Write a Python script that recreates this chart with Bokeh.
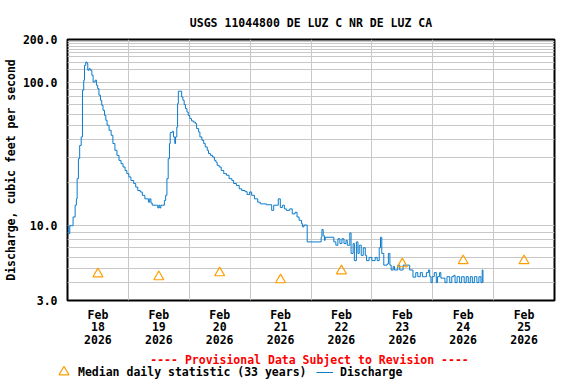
import pandas as pd
from bokeh.plotting import figure
from bokeh.layouts import column
from bokeh.models import Range1d, FixedTicker, Legend, LegendItem, Label, ColumnDataSource
from bokeh.embed import file_html
from bokeh.resources import INLINE

# ---------------- data ----------------
start = pd.Timestamp("2026-02-18 00:00")
end = pd.Timestamp("2026-02-26 00:00")

# hours after 2026-02-18 00:00
hours = [0.1,0.5,0.9,1.5,2.2,3.0,3.5,3.8,4.3,4.8,
         5.4,5.9,6.4,6.7,7.2,7.7,8.0,8.5,9.0,9.6,
         10.1,10.9,11.4,11.9,12.4,13.0,13.5,14.0,14.6,15.1,
         15.6,16.4,17.2,17.9,18.7,19.5,20.3,21.1,21.9,22.7,
         23.4,24.2,25.0,26.1,26.9,27.7,28.7,29.5,30.5,31.9,
         32.4,32.9,33.4,35.2,35.6,36.0,36.4,36.8,37.6,38.2,
         38.7,39.2,39.7,40.2,40.5,41.3,41.8,42.3,42.6,43.1,
         43.4,43.7,44.4,45.0,45.5,46.0,46.5,47.1,47.6,48.2,
         48.9,49.6,50.4,50.9,51.7,52.2,53.0,53.7,54.3,55.1,
         55.6,56.4,57.2,57.9,58.5,59.0,59.8,60.6,61.6,62.7,
         63.7,64.8,65.5,66.6,67.7,68.7,70.0,70.8,71.8,72.6,
         73.7,75.0,76.0,78.4,80.5,81.3,82.9,83.1,83.9,84.7,
         85.5,86.3,87.6,88.6,89.7,90.5,91.3,92.3,92.7,93.2,
         94.3,94.5,99.5,100.0,100.3,100.8,101.3,101.6,104.8,105.0,
         105.8,106.6,107.4,108.2,109.0,109.8,110.3,111.3,111.8,112.6,
         113.1,113.9,114.5,115.0,115.8,116.6,117.4,117.9,118.9,120.0,
         121.3,122.1,122.9,123.4,123.9,124.7,126.0,126.5,127.1,127.6,
         128.4,128.9,130.2,131.0,132.0,132.3,134.1,134.9,135.4,136.2,
         137.3,138.1,139.1,139.9,140.7,141.5,142.3,142.8,143.3,143.8,
         144.6,145.4,145.9,146.7,147.2,148.8,149.6,150.7,151.5,152.3,
         152.8,153.6,154.6,155.4,156.4,157.2,158.0,158.8,159.6,160.4,
         161.4,162.2,163.0,163.5,163.8]

discharge = [10.0,8.8,10.0,10.0,11.5,13.9,15.4,21.3,29.4,36.4,
             41.7,88.4,103.8,132,139,136,122,125,122,112.5,
             101,104,95.8,90.8,81.6,75.2,69.4,64,59,54.5,
             50.3,46.4,42.8,37.5,33.6,31,28.6,27.1,25.7,24.3,
             23.1,21.9,20.7,19.7,18.6,17.6,17.2,16.3,15.4,14.6,
             15.4,14.4,13.9,13.9,13.3,13.9,13.3,13.9,13.9,15.0,
             16.3,21.3,29.4,37.5,44.7,45.6,41.7,37.5,41.7,48.9,
             71.3,87,87,79.3,75.2,70.2,65.8,62.3,59,56,
             54,53,51.7,47.7,45.1,41.7,39.5,37.5,35.5,33.6,
             31.9,31,30.2,28.6,27.8,26.4,25.7,24.3,23.1,22.5,
             21.3,20.7,19.7,19.1,18.1,17.6,17.3,16.5,17.2,16.3,
             15.4,14.6,14.2,14.0,12.8,13.9,13.9,15.4,13.4,13.9,
             13.1,12.8,13.1,12.1,12.4,11.5,10.9,10.3,9.8,10.1,
             10.1,7.7,7.7,8.3,9.4,8.5,7.9,8.3,8.3,7.7,
             7.3,8.1,7.5,8.1,7.5,7.9,7.3,8.9,6.4,7.5,
             5.7,7.7,6.4,7.3,6.2,7.0,6.2,5.7,6.0,5.7,
             6.0,5.7,7.0,8.3,6.4,5.3,5.4,6.4,5.3,4.9,
             5.2,4.9,5.3,4.9,4.9,5.3,5.3,4.9,4.9,4.37,
             4.7,4.4,4.7,4.4,4.4,4.7,4.9,4.4,4.0,4.4,
             4.7,4.0,4.4,4.7,4.3,4.0,4.4,4.0,4.4,4.5,
             4.0,4.4,4.0,4.4,4.0,4.4,4.0,4.4,4.0,4.4,
             4.0,4.4,4.0,4.9,4.0]

median_dates = ["2026-02-18 12:00", "2026-02-19 12:00", "2026-02-20 12:00", "2026-02-21 12:00",
                "2026-02-22 12:00", "2026-02-23 12:00", "2026-02-24 12:00", "2026-02-25 12:00"]
median_values = [4.60, 4.39, 4.68, 4.18, 4.83, 5.41, 5.68, 5.68]

label_dates = median_dates
label_texts = ["Feb\n18\n2026", "Feb\n19\n2026", "Feb\n20\n2026", "Feb\n21\n2026",
               "Feb\n22\n2026", "Feb\n23\n2026", "Feb\n24\n2026", "Feb\n25\n2026"]
grid_dates = ["2026-02-19", "2026-02-20", "2026-02-21", "2026-02-22",
              "2026-02-23", "2026-02-24", "2026-02-25"]

y_tick_values = [3, 10, 100, 200]
y_tick_labels = ["3.0", "10.0", "100.0", "200.0"]
y_grid_values = [4, 5, 6, 7, 8, 9, 10, 20, 30, 40, 50, 60, 70, 80, 90, 100,
                 123, 139, 152, 162, 171, 179, 187, 194]

TITLE = "USGS 11044800 DE LUZ C NR DE LUZ CA"
PROVISIONAL = "---- Provisional Data Subject to Revision ----"
Y_LABEL = "Discharge, cubic feet per second"
MEDIAN_LABEL = "Median daily statistic (33 years)"
LINE_LABEL = "Discharge"

# ---------------- style ----------------
FONT = "DejaVu Sans Mono"
FS = "11.5px"
BLUE = "#0A7BCB"
ORANGE = "#FF9E00"
GRID = "#C8C8C8"
W = 576


def ms(s):
    return pd.Timestamp(s).value / 1e6


x = [start + pd.Timedelta(hours=h) for h in hours]
src = ColumnDataSource(dict(x=x, y=discharge))
msrc = ColumnDataSource(dict(x=[pd.Timestamp(d) for d in median_dates], y=median_values))

p = figure(width=W, height=350, x_axis_type="datetime", y_axis_type="log",
           x_range=Range1d(start.to_pydatetime(), end.to_pydatetime()),
           y_range=Range1d(3, 200),
           output_backend="svg", toolbar_location=None,
           min_border_left=66, min_border_right=22, min_border_top=39, min_border_bottom=50)

p.background_fill_color = "white"
p.border_fill_color = "white"
p.outline_line_color = "black"
p.outline_line_width = 2

p.title.text = TITLE
p.title.align = "center"
p.title.text_font = FONT
p.title.text_font_style = "bold"
p.title.text_font_size = FS
p.title.text_color = "black"
p.title.standoff = 20

# x axis
xt = [ms(d) for d in label_dates]
p.xaxis.ticker = FixedTicker(ticks=xt)
p.xaxis.major_label_overrides = {t: l for t, l in zip(xt, label_texts)}
p.xgrid.ticker = FixedTicker(ticks=[ms(d) for d in grid_dates])

# y axis
p.yaxis.ticker = FixedTicker(ticks=y_tick_values)
p.yaxis.major_label_overrides = {v: l for v, l in zip(y_tick_values, y_tick_labels)}
p.ygrid.ticker = FixedTicker(ticks=y_grid_values)
p.yaxis.axis_label = Y_LABEL

for ax in (p.xaxis[0], p.yaxis[0]):
    ax.axis_line_color = None
    ax.major_tick_line_color = None
    ax.minor_tick_line_color = None
    ax.major_tick_out = 0
    ax.major_tick_in = 0
    ax.minor_tick_out = 0
    ax.minor_tick_in = 0
    ax.major_label_text_font = FONT
    ax.major_label_text_font_style = "bold"
    ax.major_label_text_font_size = FS
    ax.major_label_text_color = "black"
    ax.axis_label_text_font = FONT
    ax.axis_label_text_font_style = "bold"
    ax.axis_label_text_font_size = FS
    ax.axis_label_text_color = "black"

p.xaxis.major_label_standoff = 7
p.xaxis.major_label_text_line_height = 0.91
p.yaxis.major_label_standoff = 10
p.yaxis.axis_label_standoff = 2

for g in (p.xgrid[0], p.ygrid[0]):
    g.grid_line_color = GRID
    g.grid_line_width = 1
    g.minor_grid_line_color = None

# data
p.step("x", "y", source=src, mode="after", line_color=BLUE, line_width=1)
p.scatter("x", "y", source=msrc, marker="triangle", size=10,
          fill_color=None, line_color=ORANGE, line_width=1.2)

# ---------------- footer: provisional note + legend ----------------
H2 = 34
f = figure(width=W, height=H2, x_range=Range1d(0, W), y_range=Range1d(0, H2),
           output_backend="svg", toolbar_location=None,
           x_axis_location=None, y_axis_location=None, frame_align=False,
           min_border=0, min_border_left=0, min_border_right=0,
           min_border_top=0, min_border_bottom=0)
f.outline_line_color = None
f.grid.visible = False
f.background_fill_color = "white"
f.border_fill_color = "white"

NAN = float("nan")
med_proxy = f.scatter(x=[NAN], y=[NAN], marker="triangle", fill_color=None,
                      line_color=ORANGE, line_width=1.2)
line_proxy = f.line(x=[NAN, NAN], y=[NAN, NAN], line_color=BLUE, line_width=1)

f.add_layout(Label(x=309, y=H2 - 9, text=PROVISIONAL,
                   text_align="center", text_baseline="middle",
                   text_font=FONT, text_font_style="bold", text_font_size=FS,
                   text_color="#FF0000"))


def style_legend(lg):
    lg.label_text_font = FONT
    lg.label_text_font_style = "bold"
    lg.label_text_font_size = FS
    lg.label_text_color = "black"
    lg.label_text_baseline = "middle"
    lg.border_line_color = None
    lg.background_fill_alpha = 0
    lg.padding = 0
    lg.margin = 0
    lg.spacing = 0


leg1 = Legend(items=[LegendItem(label=MEDIAN_LABEL, renderers=[med_proxy])],
              location=(51, 0), glyph_width=25, glyph_height=25, label_height=25,
              label_standoff=2)
style_legend(leg1)
leg2 = Legend(items=[LegendItem(label=LINE_LABEL, renderers=[line_proxy])],
              location=(316, 5), glyph_width=17, glyph_height=14, label_height=14,
              label_standoff=7)
style_legend(leg2)
f.add_layout(leg1, "center")
f.add_layout(leg2, "center")

layout = column(p, f, spacing=0)
open("out.html", "w").write(file_html(layout, INLINE))
